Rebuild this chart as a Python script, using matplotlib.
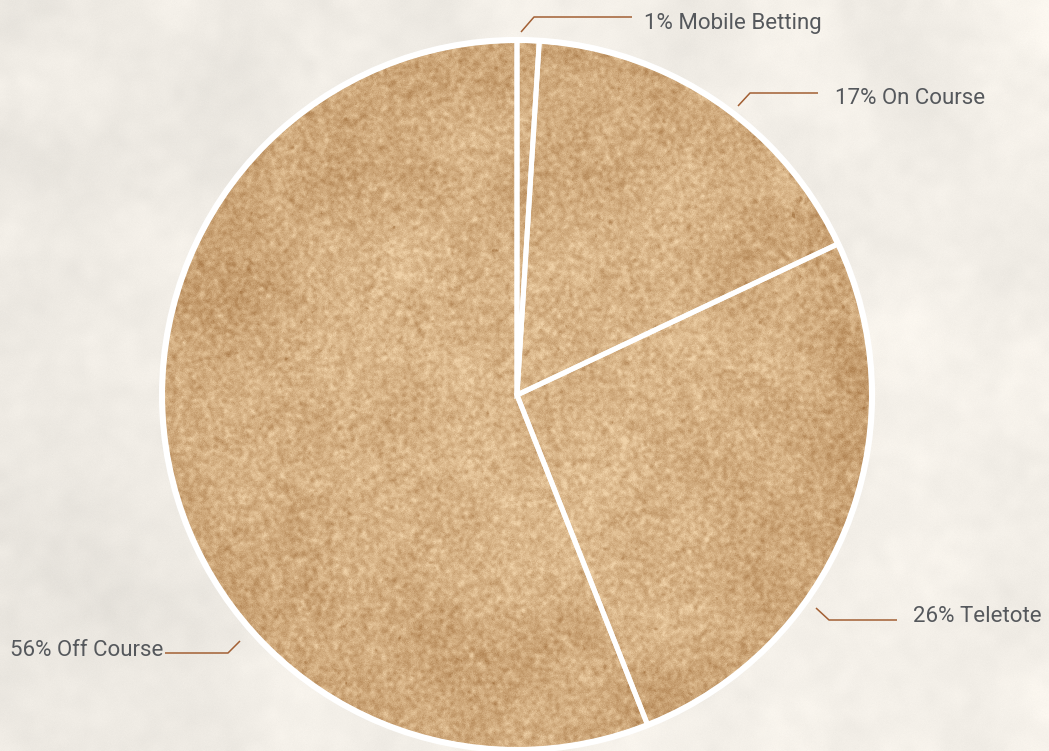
import numpy as np
import matplotlib
matplotlib.use("Agg")
import matplotlib.pyplot as plt
from matplotlib.patches import Circle

# Share of betting turnover by channel (%)
labels = ["Mobile Betting", "On Course", "Teletote", "Off Course"]
shares = [1, 17, 26, 56]

W, H = 1049, 751
CX, CY_DOWN = 517, 395          # pie centre in pixel coords (y measured downwards)
CY = H - CY_DOWN
R = 355

# label text anchors (x, baseline y measured downwards) and leader polylines
label_pos = [(644, 29), (835, 104), (913, 622), (10, 656)]
leaders = [
    [(521, 32), (534, 17), (632, 17)],
    [(738, 106), (750, 93), (818, 93)],
    [(816, 608), (829, 620), (897, 620)],
    [(240, 641), (228, 653), (165, 653)],
]

rng = np.random.default_rng(11)


def box(a, k):
    """Box blur with an odd kernel size using summed-area tables."""
    if k <= 1:
        return a
    pad = k // 2
    b = np.pad(a, pad, mode="reflect")
    c = np.cumsum(np.cumsum(b, 0), 1)
    c = np.pad(c, ((1, 0), (1, 0)))
    out = c[k:, k:] - c[:-k, k:] - c[k:, :-k] + c[:-k, :-k]
    return out / (k * k)


def field(k):
    f = rng.standard_normal((H, W))
    for _ in range(3):
        f = box(f, k)
    return (f - f.mean()) / f.std()


yy, xx = np.mgrid[0:H, 0:W]

# paper-like background
bg_large = field(61)
bg_mid = field(11)
bg_fine = field(1)
grad = np.clip((xx / W - 0.35), -1, 0.2) * 14
shade = 2.5 * bg_large + 1.2 * bg_mid + 0.8 * bg_fine + grad
bg = np.stack([241 + shade, 237 + shade * 0.97, 230 + shade * 0.94], -1)
bg = np.clip(bg, 0, 255) / 255.0

# sandy fill for the pie
fine = field(1)
fine2 = field(3)
large = field(41)
rr = np.hypot(xx - CX, yy - CY_DOWN) / R
radial = 1 - np.clip(rr, 0, 1) ** 1.8
val = 0.5 + 0.10 * fine2 + 0.05 * fine + 0.05 * large + 0.22 * radial
speck = field(3)
val = val - 0.22 * np.clip(-speck - 2.2, 0, 1.5)
val = np.clip(val, 0, 1)[..., None]
dark = np.array([168, 120, 70]) / 255.0
light = np.array([240, 210, 168]) / 255.0
sand = dark + val * (light - dark)

fig = plt.figure(figsize=(W / 100, H / 100), dpi=100)
ax = fig.add_axes([0, 0, 1, 1])

ax.imshow(bg, extent=(0, W, 0, H), origin="upper", zorder=0, interpolation="nearest")
im = ax.imshow(sand, extent=(0, W, 0, H), origin="upper", zorder=1, interpolation="nearest")
clip = Circle((CX, CY), R, transform=ax.transData)
im.set_clip_path(clip)

wedges, _ = ax.pie(
    shares, center=(CX, CY), radius=R, startangle=90, counterclock=False,
    colors=["none"] * len(shares),
    wedgeprops=dict(edgecolor="white", linewidth=3.6, joinstyle="miter"),
    frame=True,
)
for w in wedges:
    w.set_zorder(2)
ax.add_patch(Circle((CX, CY), R, facecolor="none", edgecolor="white", linewidth=4.4, zorder=3))
ax.set_xlim(0, W)
ax.set_ylim(0, H)
ax.set_aspect("equal")
ax.axis("off")

for lab, share, (tx, ty), pts in zip(labels, shares, label_pos, leaders):
    px = [p[0] for p in pts]
    py = [H - p[1] for p in pts]
    ax.plot(px, py, color="#a25f33", linewidth=1.1, zorder=4, solid_capstyle="butt")
    ax.text(tx, H - ty, f"{share}% {lab}", fontsize=16, color="#55585c",
            family="Roboto", va="baseline", ha="left", zorder=5)

fig.savefig("out.png", dpi=100)
